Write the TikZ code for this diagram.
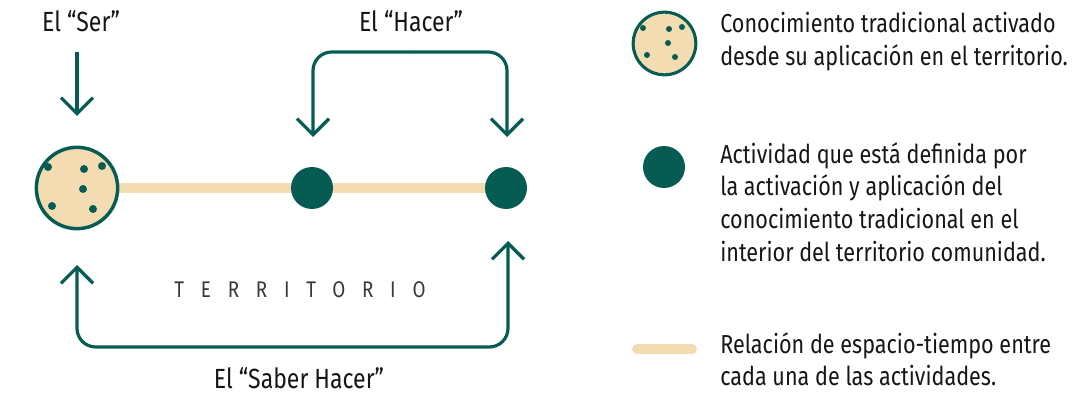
\documentclass[tikz,border=0pt]{standalone}
\usepackage{fontspec}
\setmainfont[FakeStretch=0.83]{Fira Sans}
\newfontfamily\spaced[FakeStretch=0.83,LetterSpace=74]{Fira Sans}
\usetikzlibrary{arrows.meta,backgrounds}
\definecolor{dkgreen}{HTML}{065C53}
\definecolor{tan}{HTML}{F3DCB1}
\definecolor{ink}{HTML}{161616}
\tikzset{
  conn/.style={draw=dkgreen, line width=2.4pt, rounded corners=14pt,
    -{Straight Barb[length=12pt,width=24pt,line width=2.4pt]}},
  link/.style={draw=tan, line width=7.5pt},
  bigdot/.style={circle, fill=dkgreen, inner sep=0pt, minimum size=31.5pt},
  seed/.style={circle, fill=dkgreen, inner sep=0pt, minimum size=#1},
  ser/.style={circle, fill=tan, draw=dkgreen, line width=2.6pt, inner sep=0pt, minimum size=#1},
  lbl/.style={font=\fontsize{20.8}{24}\selectfont, text=ink},
  legend/.style={font=\fontsize{19.5}{24.5}\selectfont, text=ink, align=left, anchor=north west, inner sep=0pt},
}
\begin{document}
\begin{tikzpicture}[x=0.75pt, y=-0.75pt]
\useasboundingbox (0,0) rectangle (1078,395);
% nodes
\node[ser=61pt] (s) at (77,188) {};
\node[bigdot] (a1) at (312,188) {};
\node[bigdot] (a2) at (506,188) {};
\begin{scope}[on background layer]
\path[link] (s.center) -- (a2.center);
\end{scope}
\foreach \p/\q [count=\i] in {48/167,84/169,102/166,83/189,52/206,93/209}
  \node[seed=6pt] (sd\i) at (\p,\q) {};
% labels
\node[lbl, anchor=base] (lser) at (81,32) {El “Ser”};
\node[lbl, anchor=base] (lhacer) at (411,32) {El “Hacer”};
\node[lbl, anchor=base] (lsaber) at (299,388) {El “Saber Hacer”};
\node[anchor=base, text=ink!85, font=\fontsize{17}{20}\selectfont\spaced] (terr) at (300,298) {TERRITORIO};
% arrows
\coordinate (serTop) at (77,52);
\coordinate (serTip) at (77,116);
\draw[conn] (serTop) -- (serTip);
\coordinate (hA) at (313,137);
\coordinate (hB) at (507,137);
\draw[conn] (410,52) -| (hA);
\draw[conn] (410,52) -| (hB);
\coordinate (sA) at (77,265);
\coordinate (sB) at (508,241);
\draw[conn] (300,347) -| (sA);
\draw[conn] (300,347) -| (sB);
% legend
\node[ser=47pt, line width=2.3pt] (leg1) at (664.5,43.5) {};
\foreach \p/\q [count=\i] in {643/28,669/29,682/27,668/43,647/55,675/57}
  \node[seed=4.5pt] (ld\i) at (\p,\q) {};
\node[bigdot] (leg2) at (664,167) {};
\coordinate (lt1) at (637,349);
\coordinate (lt2) at (692,349);
\draw[link, line cap=round] (lt1) -- (lt2);
\node[legend] (t1) at (720,12) {Conocimiento tradicional activado\\desde su aplicación en el territorio.};
\node[legend] (t2) at (720,142) {Actividad que está definida por\\la activación y aplicación del\\conocimiento tradicional en el\\interior del territorio comunidad.};
\node[legend] (t3) at (720,332) {Relación de espacio-tiempo entre\\cada una de las actividades.};
\end{tikzpicture}
\end{document}
